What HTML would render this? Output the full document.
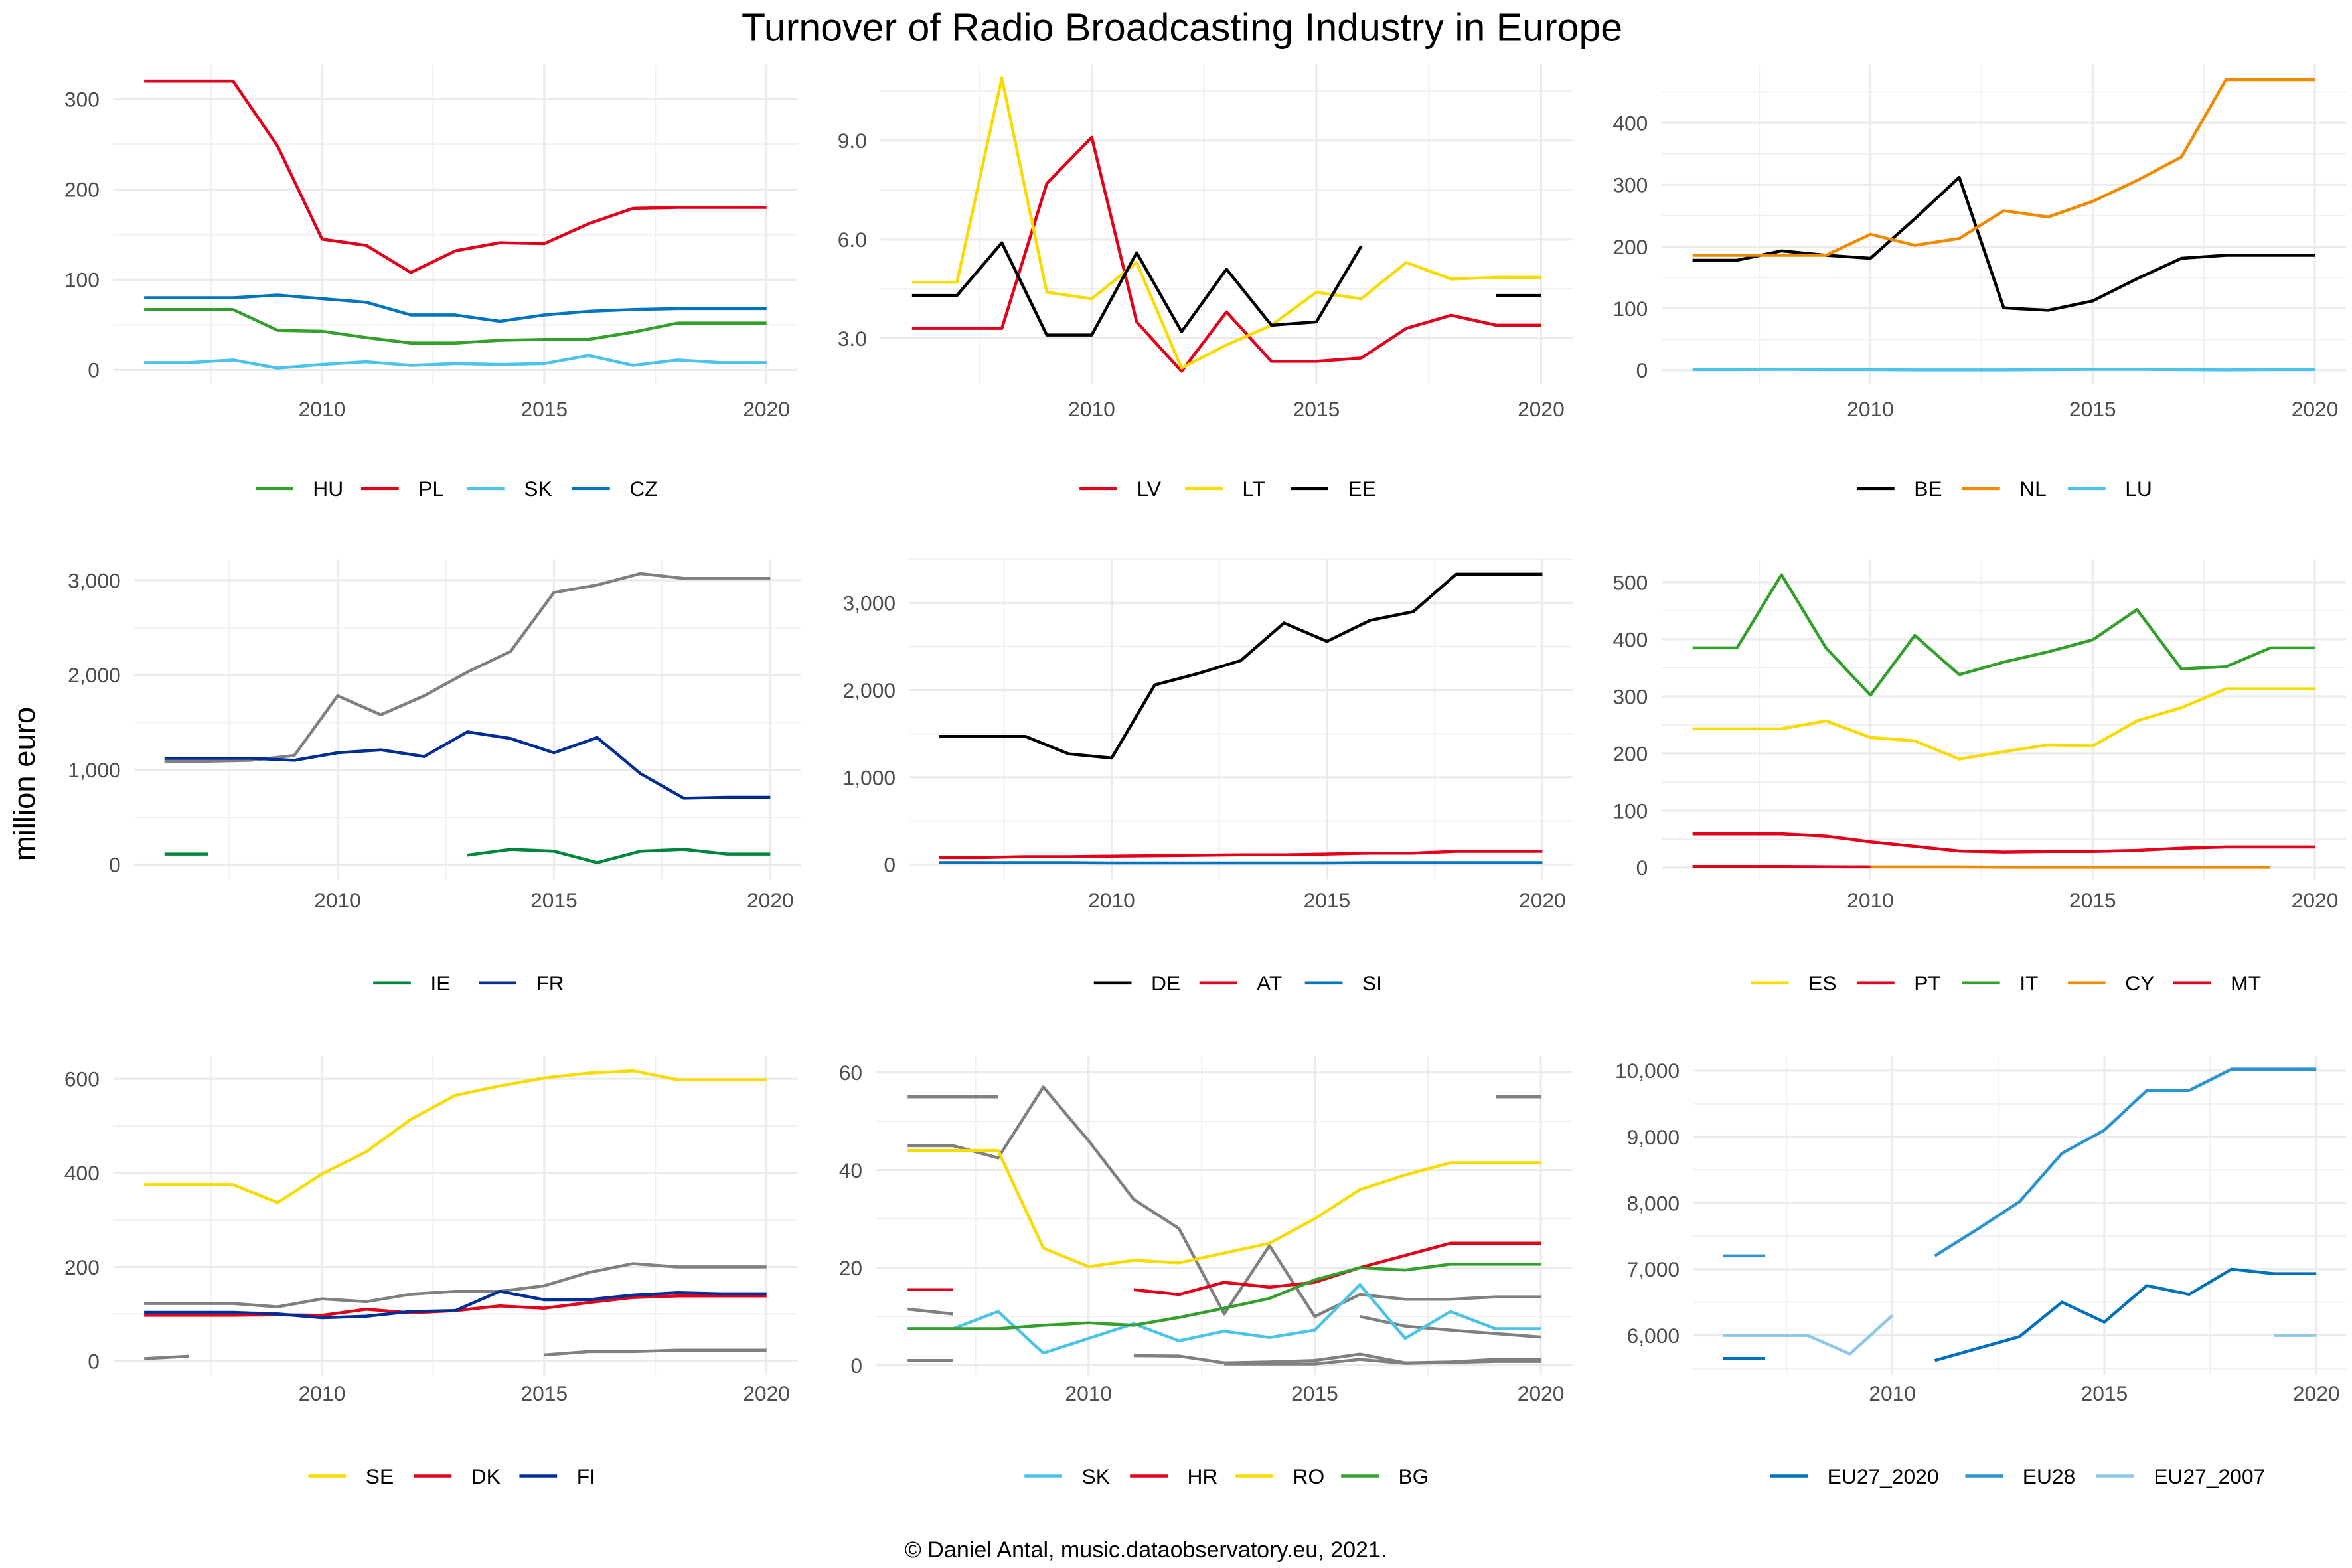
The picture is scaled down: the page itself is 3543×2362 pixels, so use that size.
<!DOCTYPE html>
<html><head><meta charset="utf-8"><style>
html,body{margin:0;padding:0;background:#fff;}
svg{display:block;font-family:"Liberation Sans",Arial,sans-serif;}
</style></head><body>
<svg id="chart" width="3543" height="2362" viewBox="0 0 1560 1040" xmlns="http://www.w3.org/2000/svg">
<rect width="1560" height="1040" fill="#fff"/>
<text x="784" y="27" font-size="26" text-anchor="middle" fill="#000">Turnover of Radio Broadcasting Industry in Europe</text>
<text transform="translate(23,520) rotate(-90)" font-size="20" text-anchor="middle" fill="#000">million euro</text>
<text x="760" y="1033" font-size="15" text-anchor="middle" fill="#000">© Daniel Antal, music.dataobservatory.eu, 2021.</text>
<g id="panels"></g>
</svg>
<script>
const years = [2006,2007,2008,2009,2010,2011,2012,2013,2014,2015,2016,2017,2018,2019,2020];
const N = null;
// panel 1
const p1HU = [67,67,67,44,43,36,30,30,33,34,34,42,52,52,52];
const p1PL = [320,320,320,248,145,138,108,132,141,140,162,179,180,180,180];
const p1SK = [8,8,11,2,6,9,5,7,6,7,16,5,11,8,8];
const p1CZ = [80,80,80,83,79,75,61,61,54,61,65,67,68,68,68];
const p1Ticks = [0,100,200,300];
const p1Labels = ["0","100","200","300"];
// panel 2
const p2LV = [3.3,3.3,3.3,7.7,9.1,3.5,2.0,3.8,2.3,2.3,2.4,3.3,3.7,3.4,3.4];
const p2LT = [4.7,4.7,10.9,4.4,4.2,5.3,2.1,2.8,3.4,4.4,4.2,5.3,4.8,4.85,4.85];
const p2EE = [4.3,4.3,5.9,3.1,3.1,5.6,3.2,5.1,3.4,3.5,5.8,N,N,4.3,4.3];
const p2Ticks = [3,6,9];
const p2Labels = ["3.0","6.0","9.0"];
// panel 3
const p3BE = [178,178,193,186,181,245,312,101,97,112,148,181,186,186,186];
const p3NL = [186,186,186,186,220,202,213,258,248,273,307,345,470,470,470];
const p3LU = [1,1,1.5,1,1,0.5,0.5,0.5,1,1.5,1.5,1,0.5,1,1];
const p3Ticks = [0,100,200,300,400];
const p3Labels = ["0","100","200","300","400"];
// panel 4
const p4Grey = [1090,1090,1100,1150,1780,1580,1780,2030,2250,2870,2950,3070,3020,3020,3020];
const p4IE = [110,110,N,N,N,N,N,100,160,140,20,140,160,110,110];
const p4FR = [1120,1120,1120,1100,1180,1210,1140,1400,1330,1180,1340,960,700,710,710];
const p4Ticks = [0,1000,2000,3000];
const p4Labels = ["0","1,000","2,000","3,000"];
// panel 5
const p5DE = [1470,1470,1470,1270,1220,2060,2190,2340,2770,2560,2800,2900,3330,3330,3330];
const p5AT = [80,80,90,90,95,100,105,110,110,120,130,130,150,150,150];
const p5SI = [20,20,20,20,18,18,18,18,18,18,20,20,20,20,20];
const p5Ticks = [0,1000,2000,3000];
const p5Labels = ["0","1,000","2,000","3,000"];
// panel 6
const p6ES = [243,243,243,257,228,222,190,203,215,213,257,280,313,313,313];
const p6PT = [59,59,59,55,45,37,29,27,28,28,30,34,36,36,36];
const p6IT = [385,385,513,385,302,407,338,360,378,399,452,348,352,385,385];
const p6CY = [N,N,N,N,1,1,1,0.5,0.5,0.5,0.5,0.5,0.5,0.5,N];
const p6MT = [2,2,2,1.5,1,N,N,N,N,N,N,N,N,N,1];
const p6Ticks = [0,100,200,300,400,500];
const p6Labels = ["0","100","200","300","400","500"];
// panel 7
const p7SE = [375,375,375,337,398,445,514,565,585,602,612,617,598,598,598];
const p7DK = [97,97,97,98,97,110,102,107,117,112,124,135,138,138,138];
const p7FI = [103,103,103,100,92,95,105,107,148,130,130,140,145,143,143];
const p7GreyA = [122,122,122,115,132,126,142,148,148,160,188,207,200,200,200];
const p7GreyB = [5,10,N,N,N,N,N,N,N,13,20,20,23,23,23];
const p7Ticks = [0,200,400,600];
const p7Labels = ["0","200","400","600"];
// panel 8
const p8SK = [7.5,7.5,11,2.5,5.5,8.5,5,7,5.7,7.2,16.5,5.5,11,7.5,7.5];
const p8HR = [15.5,15.5,N,N,N,15.5,14.5,17,16,17,20,22.5,25,25,25];
const p8RO = [44,44,44,24,20.2,21.5,21,23,25,30,36,39,41.5,41.5,41.5];
const p8BG = [7.5,7.5,7.5,8.2,8.7,8.2,9.8,11.7,13.7,17.5,20,19.5,20.7,20.7,20.7];
const p8GreyA = [55,55,55,N,N,N,N,N,N,N,N,N,N,55,55];
const p8GreyB = [45,45,42.5,57,46,34,28,10.5,24.5,10,14.5,13.5,13.5,14,14];
const p8GreyC = [11.5,10.5,N,N,N,N,N,N,N,N,N,N,N,N,N];
const p8GreyD = [N,N,N,N,N,N,N,N,N,N,10,8,7.2,6.5,5.8];
const p8GreyE = [N,N,N,N,N,2,1.9,0.5,0.7,1,2.3,0.5,0.7,1.2,1.2];
const p8GreyF = [N,N,N,N,N,N,N,0.3,0.3,0.3,1.2,0.4,0.6,0.8,0.8];
const p8GreyG = [1,1,N,N,N,N,N,N,N,N,N,N,N,N,N];
const p8Ticks = [0,20,40,60];
const p8Labels = ["0","20","40","60"];
// panel 9
const p9EU27_2020 = [5650,5650,N,N,N,5620,5800,5980,6500,6200,6750,6620,7000,6930,6930];
const p9EU28 = [7200,7200,N,N,N,7200,7600,8020,8750,9100,9700,9700,10020,10020,10020];
const p9EU27_2007 = [6000,6000,6000,5720,6300,N,N,N,N,N,N,N,N,6000,6000];
const p9Ticks = [6000,7000,8000,9000,10000];
const p9Labels = ["6,000","7,000","8,000","9,000","10,000"];

const xTicks = [2010,2015,2020];
const GREY = "#808080";

const panels = [
 {id:"hu-pl", L:75,R:529, row:0, ymin:-16, ymax:338, ticks:p1Ticks, labels:p1Labels,
  series:[["HU",p1HU,"#33a02c"],["PL",p1PL,"#e2001a"],["SK",p1SK,"#4cc3e8"],["CZ",p1CZ,"#0075bf"]], extra:[]},
 {id:"baltic", L:584,R:1043, row:0, ymin:1.6, ymax:11.3, ticks:p2Ticks, labels:p2Labels,
  series:[["LV",p2LV,"#e2001a"],["LT",p2LT,"#f8dc00"],["EE",p2EE,"#000000"]], extra:[]},
 {id:"benelux", L:1102,R:1556, row:0, ymin:-23, ymax:494, ticks:p3Ticks, labels:p3Labels,
  series:[["BE",p3BE,"#000000"],["NL",p3NL,"#f08a00"],["LU",p3LU,"#4cc3e8"]], extra:[]},
 {id:"ie-fr", L:89,R:531, row:1, ymin:-152, ymax:3220, ticks:p4Ticks, labels:p4Labels,
  series:[["IE",p4IE,"#00873d"],["FR",p4FR,"#002d96"]], extra:[p4Grey]},
 {id:"de-at", L:603,R:1043, row:1, ymin:-166, ymax:3500, ticks:p5Ticks, labels:p5Labels,
  series:[["DE",p5DE,"#000000"],["AT",p5AT,"#e2001a"],["SI",p5SI,"#0075bf"]], extra:[]},
 {id:"south", L:1102,R:1556, row:1, ymin:-20, ymax:540, ticks:p6Ticks, labels:p6Labels,
  series:[["ES",p6ES,"#f8dc00"],["PT",p6PT,"#e2001a"],["IT",p6IT,"#33a02c"],["CY",p6CY,"#f08a00"],["MT",p6MT,"#e2001a"]], extra:[]},
 {id:"nordic", L:75,R:529, row:2, ymin:-30, ymax:650, ticks:p7Ticks, labels:p7Labels,
  series:[["SE",p7SE,"#f8dc00"],["DK",p7DK,"#e2001a"],["FI",p7FI,"#002d96"]], extra:[p7GreyA,p7GreyB]},
 {id:"southeast", L:581,R:1043, row:2, ymin:-2, ymax:63.5, ticks:p8Ticks, labels:p8Labels,
  series:[["SK",p8SK,"#4cc3e8"],["HR",p8HR,"#e2001a"],["RO",p8RO,"#f8dc00"],["BG",p8BG,"#33a02c"]],
  extra:[p8GreyA,p8GreyB,p8GreyC,p8GreyD,p8GreyE,p8GreyF,p8GreyG]},
 {id:"eu", L:1123,R:1556, row:2, ymin:5400, ymax:10230, ticks:p9Ticks, labels:p9Labels,
  series:[["EU27_2020",p9EU27_2020,"#0072bc"],["EU28",p9EU28,"#2a93d0"],["EU27_2007",p9EU27_2007,"#8ec8e6"]], extra:[]}
];
// layout (pixels)
const rowY = [[43,255],[371,583],[700,912]];
const labOff = [21,19,17];
const legOff = [69,69,67];
const NS = "http://www.w3.org/2000/svg";
const root = document.getElementById("panels");
function mk(tag, attrs, parent){
  const e = document.createElementNS(NS, tag);
  for (const k in attrs) e.setAttribute(k, attrs[k]);
  parent.appendChild(e); return e;
}
panels.forEach(p=>{
  const L = p.L, R = p.R, [T,B] = rowY[p.row];
  const x = yr => L + (yr - 2005.3)/(2020.7-2005.3)*(R-L);
  const y = v => B - (v - p.ymin)/(p.ymax-p.ymin)*(B-T);
  const g = mk("g",{},root);
  
  
  for (let yr=2007.5; yr<2021; yr+=5){ const l=mk("line",{x1:x(yr),x2:x(yr),y1:T,y2:B,stroke:"#f0f0f0","stroke-width":1},g);
      }
  const step = p.ticks[1]-p.ticks[0];
  for (let v=p.ticks[0]-step/2; v<=p.ymax; v+=step){ if (v<p.ymin) continue; const l=mk("line",{x1:L,x2:R,y1:y(v),y2:y(v),stroke:"#f0f0f0","stroke-width":1},g);
      }
  xTicks.forEach(yr=>{ const l=mk("line",{x1:x(yr),x2:x(yr),y1:T,y2:B,stroke:"#ebebeb","stroke-width":1.4},g);
     
    const t=mk("text",{x:x(yr),y:B+labOff[p.row],"font-size":14,"text-anchor":"middle",fill:"#4d4d4d"},g); t.textContent=yr;
      });
  p.ticks.forEach((v,i)=>{ const l=mk("line",{x1:L,x2:R,y1:y(v),y2:y(v),stroke:"#ebebeb","stroke-width":1.4},g);
     
    const t=mk("text",{x:L-9,y:y(v)+5,"font-size":14,"text-anchor":"end",fill:"#4d4d4d"},g); t.textContent=p.labels[i];
      });
  function drawLine(vals,color,name,w){
    let seg=[];
    const flush=()=>{ if(seg.length>1){ const pl=mk("polyline",{points:seg.join(" "),fill:"none",stroke:color,"stroke-width":w,"stroke-linejoin":"round"},g);
        } seg=[]; };
    vals.forEach((v,i)=>{ if(v===null){flush();} else seg.push(x(years[i]).toFixed(1)+","+y(v).toFixed(1)); });
    flush();
  }
  p.extra.forEach(s=>drawLine(s,GREY,"line-other",2));
  p.series.forEach(s=>drawLine(s[1],s[2],"line-"+s[0].toLowerCase(),2));
  const items = p.series.map(s=>({name:s[0],color:s[2],w:25+13+s[0].length*8.5+15}));
  const total = items.reduce((a,b)=>a+b.w,0)-15;
  let lx = (L+R)/2 - total/2;
  const ly = B + legOff[p.row];
  items.forEach(it=>{
    const lg = mk("g",{},g);
    
    
    mk("line",{x1:lx,x2:lx+25,y1:ly,y2:ly,stroke:it.color,"stroke-width":2},lg);
    const t = mk("text",{x:lx+38,y:ly+5,"font-size":14,fill:"#000"},lg); t.textContent=it.name;
    lx += it.w;
  });
});
</script>
</body></html>
